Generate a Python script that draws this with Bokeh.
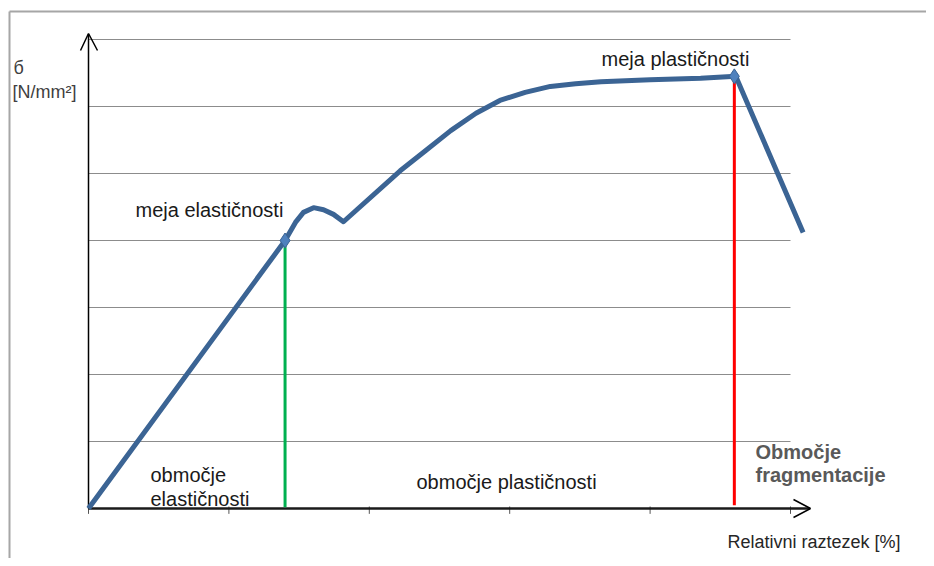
from bokeh.plotting import figure
from bokeh.models import Label, Range1d
from bokeh.embed import file_html
from bokeh.resources import INLINE

# ---- data ----
strain = [0, 1.40, 1.474, 1.531, 1.603, 1.674, 1.745, 1.816, 2.22, 2.40, 2.58, 2.76,
          2.93, 3.11, 3.29, 3.47, 3.65, 4.00, 4.36, 4.61, 5.09]
stress = [0, 4.00, 4.27, 4.42, 4.49, 4.46, 4.39, 4.28, 5.04, 5.34, 5.64, 5.90,
          6.09, 6.21, 6.30, 6.34, 6.37, 6.40, 6.42, 6.45, 4.12]
limit_x = [1.40, 4.60]
limit_y = [4.00, 6.45]
grid_levels = [1, 2, 3, 4, 5, 6, 7]
x_ticks = [0, 1, 2, 3, 4, 5]

# ---- layout ----
W, H = 926, 558
SX, SY = 140.4, 67.0          # px per data unit
OX, OY = 88, 508              # origin in figure px (from left / from top)
OFF = 0                       # page offset of the figure

def dx(page_x):
    return (page_x - OFF - OX) / SX

def dy(page_y):
    return (OY - (page_y - OFF)) / SY

p = figure(width=W, height=H, output_backend="svg", toolbar_location=None,
           x_axis_type=None, y_axis_type=None, min_border=0,
           x_range=Range1d(-OX / SX, (W - OX) / SX),
           y_range=Range1d(-(H - OY) / SY, OY / SY))
p.outline_line_color = None
p.grid.visible = False
p.background_fill_color = "white"

# image frame (top and left)
p.segment(x0=[dx(9), dx(9)], y0=[dy(11), dy(11)], x1=[dx(W), dx(9)], y1=[dy(11), dy(H)],
          line_color="#a6a6a6", line_width=2)

# horizontal grid lines
p.segment(x0=[0] * len(grid_levels), y0=grid_levels, x1=[x_ticks[-1]] * len(grid_levels),
          y1=grid_levels, line_color="#8c8c8c", line_width=1)

# x ticks
p.segment(x0=x_ticks, y0=[0.03] * len(x_ticks), x1=x_ticks, y1=[-0.08] * len(x_ticks),
          line_color="#555555", line_width=1)

# axes lines and open arrow heads
p.segment(x0=[0], y0=[0], x1=[dx(809)], y1=[0], line_color="#1a1a1a", line_width=2.5)
p.segment(x0=[0], y0=[0], x1=[0], y1=[dy(34)], line_color="black", line_width=1.5)
p.multi_line(xs=[[dx(793), dx(810), dx(793)], [dx(80), dx(88), dx(97)]],
             ys=[[dy(499), dy(508), dy(517)], [dy(50), dy(33), dy(50)]],
             line_color="black", line_width=1.5)

# limit verticals
p.segment(x0=[limit_x[0]], y0=[limit_y[0]], x1=[limit_x[0]], y1=[0.02],
          line_color="#00b050", line_width=3)
p.segment(x0=[limit_x[1]], y0=[limit_y[1]], x1=[limit_x[1]], y1=[0.05],
          line_color="#ff0000", line_width=3)

# curve
p.line(strain, stress, line_color="#3b6494", line_width=5, line_join="round")
p.scatter(limit_x, limit_y, marker="diamond", size=15,
          fill_color="#4f81bd", line_color="#3b6494", line_width=1)

FONT = "Liberation Sans"

def lab(text, px_, py_, size, color="#1a1a1a", style="normal"):
    p.add_layout(Label(x=dx(px_), y=dy(py_), text=text, text_font=FONT,
                       text_font_size=f"{size}px", text_color=color,
                       text_font_style=style, text_baseline="alphabetic",
                       text_align="left"))

lab("б", 13, 67, 18, "#404040")
lab("[N/mm²]", 12, 91, 18, "#404040")
lab("meja plastičnosti", 601, 58, 20)
lab("meja elastičnosti", 135, 209, 20)
lab("območje", 150, 474, 20)
lab("elastičnosti", 150, 498, 20)
lab("območje plastičnosti", 416, 481, 20)
lab("Območje", 755, 451, 20, "#595959", "bold")
lab("fragmentacije", 755, 474, 20, "#595959", "bold")
lab("Relativni raztezek [%]", 727, 541, 18, "#262626")

open("out.html", "w").write(file_html(p, INLINE))
